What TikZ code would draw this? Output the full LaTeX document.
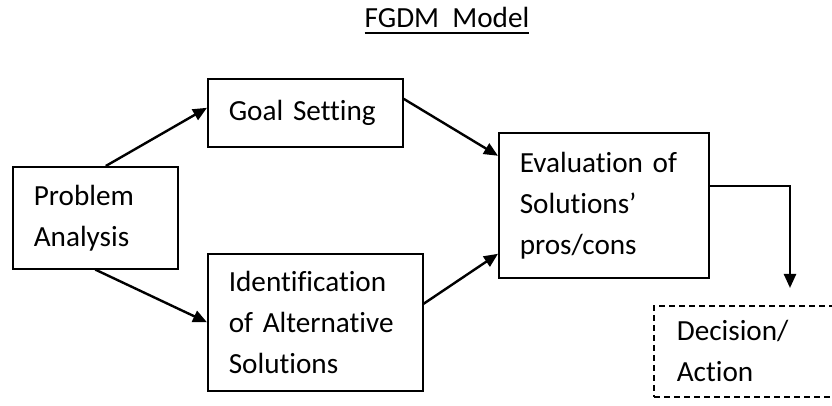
\documentclass[tikz,border=0pt]{standalone}
\usepackage{fontspec}
\setmainfont{Carlito}[Ligatures=NoCommon]
\usepackage{tikz}
\usetikzlibrary{arrows.meta}

\newcommand\ulbar[1]{\setbox0\hbox{#1}\rlap{\raisebox{-2.9pt}{\rule{\wd0}{0.8pt}}}\box0}

\begin{document}
\begin{tikzpicture}[x=0.5pt, y=-0.5pt,
    every node/.style={font=\fontsize{14.6}{20.5}\selectfont},
    box/.style={draw, line width=0.8pt, anchor=north west, align=left,
      inner xsep=10.5pt, inner ysep=0pt},
    flow/.style={line width=1.2pt, -{Triangle[length=7pt,width=6pt]}}]
    \useasboundingbox (0,0) rectangle (832,406);
    \node[anchor=base] (title) at (447, 28) {\ulbar{FGDM~~Model}};
    \node[box, text width=61.5pt, minimum height=51pt] (PA) at ( 12, 166) {Problem\\Analysis};
    \node[box, text width=76.5pt, minimum height=34pt] (GS) at (207,  78) {Goal Setting};
    \node[box, text width=86.5pt, minimum height=68.5pt] (IA) at (207, 253) {Identification\\of Alternative\\Solutions};
    \node[box, text width=84pt, minimum height=72.5pt] (EV) at (498, 132) {Evaluation of\\Solutions'\\pros/cons};
    \node[box, dashed, dash pattern=on 3pt off 2pt, inner xsep=11.5pt,
      text width=177pt, minimum height=45.5pt] (DA) at (653, 305) {Decision/\\Action};
    \coordinate (DAtip) at (790, 288);
    \draw[flow] ([xshift=5.25pt]PA.north) -- ([yshift=2.5pt]GS.west);
    \draw[flow] (PA.south) -- (IA.west);
    \draw[flow] ([yshift=7pt]GS.east) -- ([yshift=24.75pt]EV.west);
    \draw[flow] ([yshift=9.25pt]IA.east) -- ([yshift=-24.25pt]EV.west);
    \draw[flow] ([yshift=9.75pt]EV.east) -| (DAtip);
  \end{tikzpicture}
\end{document}
